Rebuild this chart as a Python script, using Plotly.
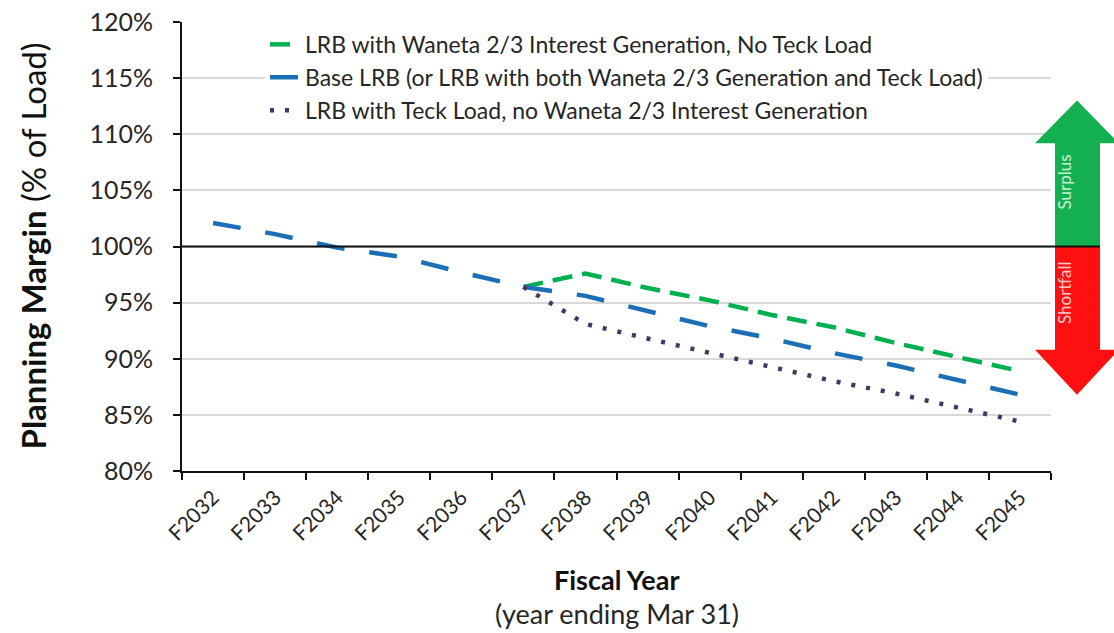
import plotly.graph_objects as go

years = ["F2032", "F2033", "F2034", "F2035", "F2036", "F2037", "F2038",
         "F2039", "F2040", "F2041", "F2042", "F2043", "F2044", "F2045"]

base_lrb = [102.1, 101.1, 99.9, 99.1, 97.7, 96.4, 95.6, 94.3, 92.9, 91.8, 90.5, 89.4, 88.1, 86.8]

split_years = years[5:]
waneta_no_teck = [96.4, 97.6, 96.3, 95.2, 93.9, 92.8, 91.4, 90.1, 88.9]
teck_no_waneta = [96.4, 93.1, 91.8, 90.5, 89.3, 88.0, 86.9, 85.7, 84.4]

names = [
    "LRB with Waneta 2/3 Interest Generation, No Teck Load",
    "Base LRB (or LRB with both Waneta 2/3 Generation and Teck Load)",
    "LRB with Teck Load, no Waneta 2/3 Interest Generation",
]

FONT = "Lato, Carlito, Calibri, sans-serif"
TXT = "#262626"

fig = go.Figure()
fig.add_trace(go.Scatter(x=split_years, y=waneta_no_teck, mode="lines", name=names[0],
                         legendgroup="a",
                         line=dict(color="#00B050", width=4.5, dash="20px,10px")))
fig.add_trace(go.Scatter(x=years, y=base_lrb, mode="lines", name=names[1],
                         legendgroup="b",
                         line=dict(color="#1B6FB5", width=4.5, dash="28px,25px")))
fig.add_trace(go.Scatter(x=split_years, y=teck_no_waneta, mode="lines", name=names[2],
                         legendgroup="c",
                         line=dict(color="#45365F", width=4.5, dash="4px,11px")))

# page pixel -> paper x (plot area spans px 182..1051)
def px2paper(p):
    return (p - 182) / 869.0

hl, hr, tip = px2paper(1035), px2paper(1119), px2paper(1077)
sl, sr = px2paper(1055), px2paper(1100)
up_path = (f"M {sl},100 L {sl},109.2 L {hl},109.2 L {tip},113.0 L {hr},109.2 "
           f"L {sr},109.2 L {sr},100 Z")
down_path = (f"M {sl},100 L {sl},90.8 L {hl},90.8 L {tip},86.8 L {hr},90.8 "
             f"L {sr},90.8 L {sr},100 Z")

shapes = [
    dict(type="path", path=up_path, xref="paper", yref="y", fillcolor="#14B050",
         line=dict(width=0), layer="above"),
    dict(type="path", path=down_path, xref="paper", yref="y", fillcolor="#FF1010",
         line=dict(width=0), layer="above"),
    dict(type="line", xref="paper", yref="y", x0=0, x1=sr, y0=100, y1=100,
         line=dict(color="#111111", width=2), layer="above"),
]

annotations = [
    dict(text="Surplus", x=tip, y=105.75, xref="paper", yref="y", showarrow=False,
         textangle=-90, font=dict(family=FONT, size=17, color="rgba(235,255,235,0.85)")),
    dict(text="Shortfall", x=tip, y=95.9, xref="paper", yref="y", showarrow=False,
         textangle=-90, font=dict(family=FONT, size=17, color="rgba(255,225,225,0.9)")),
    dict(text="<b>Planning Margin</b> (% of Load)", x=px2paper(32), y=0.5,
         xref="paper", yref="paper", showarrow=False, textangle=-90,
         xanchor="center", yanchor="middle",
         font=dict(family=FONT, size=33, color="#111111")),
    dict(text="<b>Fiscal Year</b>", x=0.5, y=(471 - 579) / 449.0,
         xref="paper", yref="paper", showarrow=False,
         xanchor="center", yanchor="middle",
         font=dict(family=FONT, size=27, color="#111111")),
    dict(text="(year ending Mar 31)", x=0.5, y=(471 - 613) / 449.0,
         xref="paper", yref="paper", showarrow=False,
         xanchor="center", yanchor="middle",
         font=dict(family=FONT, size=27, color=TXT)),
]

fig.update_layout(
    width=1114, height=633,
    margin=dict(l=182, r=63, t=22, b=162, autoexpand=False),
    paper_bgcolor="white", plot_bgcolor="white",
    font=dict(family=FONT, color=TXT),
    shapes=shapes, annotations=annotations,
    legend=dict(x=px2paper(265), y=0.998, xanchor="left", yanchor="top",
                bgcolor="white", font=dict(family=FONT, size=23, color=TXT),
                traceorder="grouped", tracegroupgap=0, itemwidth=30),
    showlegend=True,
)

fig.update_xaxes(
    type="category", categoryorder="array", categoryarray=years,
    range=[-0.5, 13.5], tickson="boundaries", ticks="outside", ticklen=7,
    tickwidth=2, tickcolor="#111111", automargin=False,
    showline=True, linecolor="#111111", linewidth=2, showgrid=False,
    tickangle=-45, tickfont=dict(family=FONT, size=21, color=TXT),
    ticklabelstandoff=4, ticklabeloverflow="allow",
)
fig.update_yaxes(
    range=[80, 120], tickvals=[80, 85, 90, 95, 100, 105, 110, 115, 120],
    ticktext=["80%", "85%", "90%", "95%", "100%", "105%", "110%", "115%", "120%"],
    ticks="outside", ticklen=7, tickwidth=2, tickcolor="#111111", automargin=False,
    showline=True, linecolor="#111111", linewidth=2,
    showgrid=True, gridcolor="#D9D9D9", gridwidth=1.5, zeroline=False,
    tickfont=dict(family=FONT, size=25, color=TXT), ticklabelstandoff=15,
    ticklabeloverflow="allow",
)

fig.write_html("out.html", config={"displayModeBar": False},
               post_script="document.body.style.margin='0';")
